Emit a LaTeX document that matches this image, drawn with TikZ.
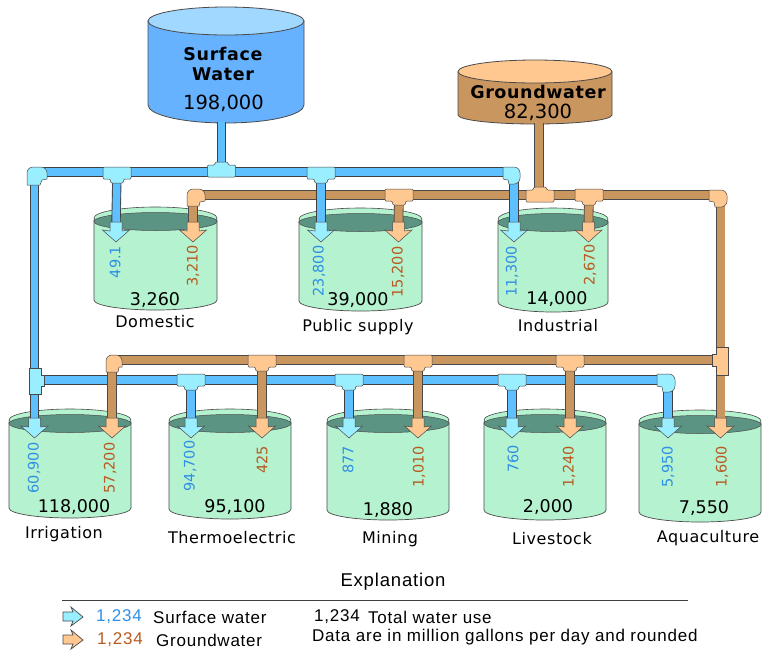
\documentclass[tikz,border=0pt]{standalone}
\usepackage{fontspec}
\usepackage{xcolor}
\setmainfont{DejaVu Sans}
\newfontfamily\spacedfont[LetterSpace=3.5]{DejaVu Sans}
\newfontfamily\legendfont[LetterSpace=4.5]{Liberation Sans}
\definecolor{edgegray}{HTML}{4A4A4A}
\definecolor{swbody}{HTML}{66B2FF}
\definecolor{swtop}{HTML}{A0D8FF}
\definecolor{swpipe}{HTML}{5FC0FF}
\definecolor{swfit}{HTML}{99EEFF}
\definecolor{gwbody}{HTML}{C99660}
\definecolor{gwfit}{HTML}{FFC890}
\definecolor{tankgreen}{HTML}{B5F2CF}
\definecolor{tankdark}{HTML}{5B9483}
\definecolor{swtext}{HTML}{2E8FE8}
\definecolor{gwtext}{HTML}{B85A20}
\tikzset{
  swline/.style={draw=black!75,line width=0.9pt,double=swpipe,double distance=7.5pt},
  gwline/.style={draw=edgegray,line width=0.8pt,double=gwbody,double distance=8pt},
  swpart/.style={draw=edgegray,line width=0.5pt,fill=swfit},
  gwpart/.style={draw=edgegray,line width=0.5pt,fill=gwfit},
  usenum/.style={font=\fontsize{14.5}{16}\selectfont,rotate=90,inner sep=0pt},
  totalnum/.style={font=\fontsize{17.5}{20}\selectfont,inner sep=0pt},
  tanklabel/.style={font=\fontsize{16}{18}\selectfont\spacedfont,inner sep=0pt},
  legendtext/.style={font=\fontsize{17}{19}\selectfont\legendfont,inner sep=0pt,anchor=west}
}
% name, x and y of the rim centre, depth, half width
\newcommand{\usetank}[5]{
  \begin{scope}[shift={(#2,#3)}]
    \draw[edgegray,line width=0.7pt,fill=tankgreen] (-#5,2) -- (-#5,#4) arc[x radius=#5,y radius=10,start angle=180,end angle=0] -- (#5,2) -- cycle;
    \draw[edgegray,line width=0.6pt,fill=tankgreen] (0,0) ellipse[x radius=#5,y radius=11];
    \draw[black!70,line width=0.5pt,fill=tankdark] (0,3.5) ellipse[x radius=#5,y radius=9];
    \coordinate (#1) at (0,0);
  \end{scope}
}
\newcommand{\headdown}[2]{
  \draw[#1,shift={(#2)}] (-6,0) -- (6,0) -- (6,9) -- (13.5,8) -- (0,20) -- (-13.5,8) -- (-6,9) -- cycle;
}
\newcommand{\teedown}[2]{
  \draw[#1,rounded corners=1pt,shift={(#2)}] (-14,-6) -- (14,-6) -- (14,6) -- (7,6) -- (6,10) -- (-6,10) -- (-7,6) -- (-14,6) -- cycle;
}
\newcommand{\teeup}[2]{
  \draw[#1,rounded corners=1pt,shift={(#2)}] (-14,6) -- (14,6) -- (14,-6) -- (7,-6) -- (6,-9) -- (-6,-9) -- (-7,-6) -- (-14,-6) -- cycle;
}
\newcommand{\legendarrow}[2]{
  \draw[#1,line width=0.7pt,shift={(#2)}] (-10,-5) -- (0,-5) -- (-2,-10) -- (10,0) -- (-2,9) -- (0,4) -- (-10,4) -- cycle;
}
\begin{document}
\begin{tikzpicture}[x=1pt,y=-1pt]
\useasboundingbox (0,0) rectangle (771,657);

% sources
\draw[edgegray,line width=0.8pt,fill=swbody] (148,21) -- (148,105) arc[x radius=78,y radius=18,start angle=180,end angle=0] -- (304,21) -- cycle;
\draw[edgegray,line width=0.8pt,fill=swtop] (226,21) ellipse[x radius=78,y radius=14];
\draw[edgegray,line width=0.8pt,fill=gwbody] (458,72) -- (458,115) arc[x radius=77,y radius=9,start angle=180,end angle=0] -- (612,72) -- cycle;
\draw[edgegray,line width=0.8pt,fill=gwfit] (535,71.5) ellipse[x radius=77,y radius=11.5];
\coordinate (swout) at (221.5,122);
\coordinate (gwout) at (539,123);

% tanks
\usetank{domestic}{155.5}{218}{82}{61.5}
\usetank{publicsup}{360.5}{219}{82}{61.5}
\usetank{industrial}{553}{219}{83}{55}
\usetank{irrigation}{70}{420}{88}{61}
\usetank{thermo}{230}{420}{89}{61}
\usetank{mining}{388}{420}{90}{61}
\usetank{livestock}{545}{420}{90}{61}
\usetank{aquaculture}{700}{421}{91}{61}

% upper mains
\coordinate (swA) at (117,173);
\coordinate (swB) at (221.5,171);
\coordinate (swC) at (321,173);
\coordinate (swL) at (34.5,172);
\coordinate (swR) at (514,172);
\coordinate (gwL) at (193,195);
\coordinate (gwA) at (399,195);
\coordinate (gwM) at (539,195);
\coordinate (gwB) at (540,196);
\coordinate (gwC) at (589,195);
\coordinate (gwR) at (720.5,195);
\coordinate (domS) at (116,222);
\coordinate (domG) at (193,222);
\coordinate (pubS) at (321,222);
\coordinate (pubG) at (398.5,222);
\coordinate (indS) at (514,222);
\coordinate (indG) at (588.5,222);
% lower mains
\coordinate (lowL) at (36,380);
\coordinate (lowA) at (191,380);
\coordinate (lowB) at (349,380);
\coordinate (lowC) at (512,380);
\coordinate (lowR) at (668,380);
\coordinate (grdL) at (112,360);
\coordinate (grdA) at (262,361);
\coordinate (grdB) at (418,361);
\coordinate (grdC) at (570,361);
\coordinate (grdR) at (720.5,360);
\coordinate (irrS) at (34.5,418);
\coordinate (irrG) at (112,418);
\coordinate (theS) at (191,418);
\coordinate (theG) at (262,418);
\coordinate (minS) at (349,418);
\coordinate (minG) at (418,418);
\coordinate (livS) at (512,418);
\coordinate (livG) at (570,418);
\coordinate (aquS) at (668,418);
\coordinate (aquG) at (720.5,418);

\draw[gwline] (gwL) -- (gwR);
\draw[gwline] (gwout) -- (gwM);
\draw[gwline] (gwL) -- (domG);
\draw[gwline] (gwA) -- (pubG);
\draw[gwline] (gwC) -- (indG);
\draw[gwline] (gwR) -- (aquG);
\draw[swline] (swout) -- (swB);
\draw[swline] (swL) -- (swR);
\draw[swline] (swL) -- (irrS);
\draw[swline] (swA) -- (domS);
\draw[swline] (swC) -- (pubS);
\draw[swline] (swR) -- (indS);
\draw[swline] (lowL) -- (lowR);
\draw[swline] (lowA) -- (theS);
\draw[swline] (lowB) -- (minS);
\draw[swline] (lowC) -- (livS);
\draw[swline] (lowR) -- (aquS);
\draw[gwline] (grdL) -- (grdR);
\draw[gwline] (grdL) -- (irrG);
\draw[gwline] (grdA) -- (theG);
\draw[gwline] (grdB) -- (minG);
\draw[gwline] (grdC) -- (livG);

% fittings
\draw[swpart] (40,185) -- (27,185) [rounded corners=6pt] -- (27,167) -- (47,167) [sharp corners] -- (47,179) -- (42,180) -- cycle;
\draw[swpart] (503,179) -- (503,167) [rounded corners=6pt] -- (520,167) -- (520,184) [sharp corners] -- (509,184) -- (508,180) -- cycle;
\draw[gwpart] (199,206) -- (187,206) [rounded corners=6pt] -- (187,189) -- (205,189) [sharp corners] -- (205,201) -- (200,202) -- cycle;
\draw[gwpart] (709,201) -- (709,190) [rounded corners=6pt] -- (727,190) -- (727,207) [sharp corners] -- (715,207) -- (714,202) -- cycle;
\draw[gwpart] (118,372) -- (106,372) [rounded corners=6pt] -- (106,355) -- (122,355) [sharp corners] -- (122,367) -- (119,367) -- cycle;
\draw[swpart] (657,386) -- (657,374) [rounded corners=6pt] -- (675,374) -- (675,392) [sharp corners] -- (663,392) -- (662,387) -- cycle;
\draw[swpart] (29,368) -- (41,368) -- (41,375) -- (44,375) -- (44,386) -- (41,386) -- (41,394) -- (29,394) -- cycle;
\draw[gwpart] (716,347) -- (728,347) -- (728,375) -- (716,375) -- (716,366) -- (712,366) -- (712,354) -- (716,354) -- cycle;
\teedown{swpart}{swA}
\teedown{swpart}{swC}
\teeup{swpart}{swB}
\teedown{gwpart}{gwA}
\teedown{gwpart}{gwC}
\teeup{gwpart}{gwB}
\teedown{swpart}{lowA}
\teedown{swpart}{lowB}
\teedown{swpart}{lowC}
\teedown{gwpart}{grdA}
\teedown{gwpart}{grdB}
\teedown{gwpart}{grdC}

% arrow heads
\headdown{swpart}{domS}
\headdown{gwpart}{domG}
\headdown{swpart}{pubS}
\headdown{gwpart}{pubG}
\headdown{swpart}{indS}
\headdown{gwpart}{indG}
\headdown{swpart}{irrS}
\headdown{gwpart}{irrG}
\headdown{swpart}{theS}
\headdown{gwpart}{theG}
\headdown{swpart}{minS}
\headdown{gwpart}{minG}
\headdown{swpart}{livS}
\headdown{gwpart}{livG}
\headdown{swpart}{aquS}
\headdown{gwpart}{aquG}

% source text
\node[font=\fontsize{17.5}{20}\selectfont\spacedfont\bfseries,align=center,inner sep=0pt] (swname) at (223,64) {Surface\\Water};
\node[font=\fontsize{19.5}{22}\selectfont,inner sep=0pt] (swtotal) at (223.5,103) {198,000};
\node[font=\fontsize{17.5}{20}\selectfont\spacedfont\bfseries,inner sep=0pt] (gwname) at (538,92) {Groundwater};
\node[font=\fontsize{19.5}{22}\selectfont,inner sep=0pt] (gwtotal) at (538,112) {82,300};

% numbers
\node[usenum,swtext] (n1) at (115,262) {49.1};
\node[usenum,gwtext] (n2) at (193,266) {3,210};
\node[usenum,swtext] (n3) at (319,271) {23,800};
\node[usenum,gwtext] (n4) at (398,272) {15,200};
\node[usenum,swtext] (n5) at (512,271.5) {11,300};
\node[usenum,gwtext] (n6) at (590,265) {2,670};
\node[usenum,swtext] (n7) at (34,468) {60,900};
\node[usenum,gwtext] (n8) at (110,468) {57,200};
\node[usenum,swtext] (n9) at (190,466) {94,700};
\node[usenum,gwtext] (n10) at (262,460) {425};
\node[usenum,swtext] (n11) at (348,460) {877};
\node[usenum,gwtext] (n12) at (419,467) {1,010};
\node[usenum,swtext] (n13) at (513,459) {760};
\node[usenum,gwtext] (n14) at (569,467) {1,240};
\node[usenum,swtext] (n15) at (668,467) {5,950};
\node[usenum,gwtext] (n16) at (722,467) {1,600};

\node[totalnum] (t1) at (155,300) {3,260};
\node[totalnum] (t2) at (358,300) {39,000};
\node[totalnum] (t3) at (557,299) {14,000};
\node[totalnum] (t4) at (74,507) {118,000};
\node[totalnum] (t5) at (235,507) {95,100};
\node[totalnum] (t6) at (388,510) {1,880};
\node[totalnum] (t7) at (548,507) {2,000};
\node[totalnum] (t8) at (704,508) {7,550};

\node[tanklabel] (l1) at (155,322) {Domestic};
\node[tanklabel] (l2) at (358,327) {Public supply};
\node[tanklabel] (l3) at (558,326) {Industrial};
\node[tanklabel] (l4) at (64,534) {Irrigation};
\node[tanklabel] (l5) at (232,538) {Thermoelectric};
\node[tanklabel] (l6) at (390,539) {Mining};
\node[tanklabel] (l7) at (552,539) {Livestock};
\node[tanklabel] (l8) at (708,538) {Aquaculture};

% explanation
\node[font=\fontsize{18.5}{20}\selectfont\legendfont,inner sep=0pt] (ex) at (393,582) {Explanation};
\coordinate (ruleL) at (62,600);
\coordinate (ruleR) at (688,600);
\draw[black!75,line width=1pt] (ruleL) -- (ruleR);
\coordinate (keyS) at (73,617);
\coordinate (keyG) at (73,640);
\legendarrow{swpart}{keyS}
\legendarrow{gwpart}{keyG}
\node[legendtext,swtext] (k1) at (96,617) {1,234};
\node[legendtext] (k2) at (153,617) {Surface water};
\node[legendtext] (k3) at (314,617) {1,234};
\node[legendtext] (k4) at (368,617) {Total water use};
\node[legendtext,gwtext] (k5) at (97,640) {1,234};
\node[legendtext] (k6) at (156,640) {Groundwater};
\node[legendtext] (k7) at (312,637) {Data are in million gallons per day and rounded};
\end{tikzpicture}
\end{document}
